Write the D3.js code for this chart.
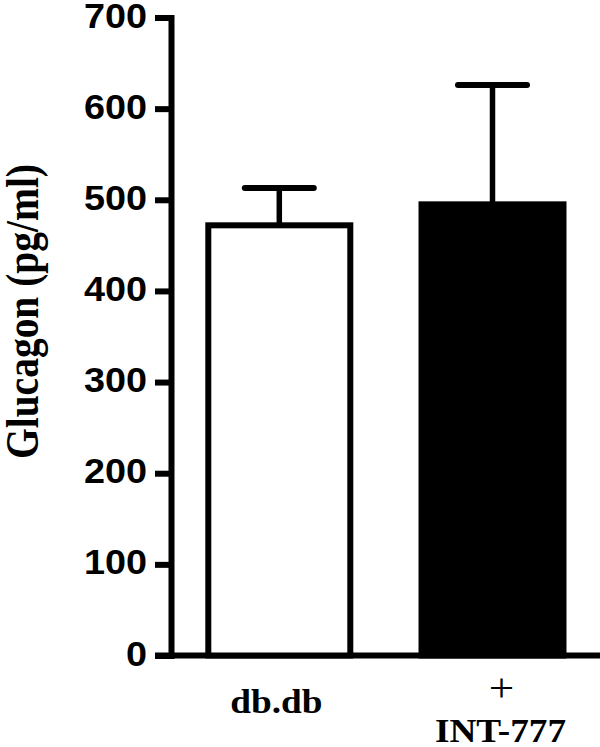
<!DOCTYPE html>
<html>
<head>
<meta charset="utf-8">
<script src="https://cdn.jsdelivr.net/npm/d3@7"></script>
<style>
  html, body { margin: 0; padding: 0; background: #fff; }
  svg { display: block; }
</style>
</head>
<body>
<svg id="chart" width="600" height="747"></svg>
<script>
// ---- data ----
const categories = ["db.db", "INT-777"];
const means = [472, 495];
const errors = [41, 131];
const fills = ["#ffffff", "#000000"];
const yTicks = [0, 100, 200, 300, 400, 500, 600, 700];
const yTitle = "Glucagon (pg/ml)";

const svg = d3.select("#chart");
const axisX = 171;

const y = d3.scaleLinear().domain([0, 700]).range([655.5, 17.5]);
const x = d3.scaleBand().domain(categories).range([172.7, 599.1])
  .paddingInner(0.334).paddingOuter(0.167);

// x axis baseline
svg.append("line")
  .attr("x1", axisX - 16).attr("x2", 600)
  .attr("y1", y(0)).attr("y2", y(0))
  .attr("stroke", "#000").attr("stroke-width", 6);

// bars
svg.selectAll("rect.bar").data(categories).join("rect")
  .attr("class", "bar")
  .attr("x", d => x(d))
  .attr("width", x.bandwidth())
  .attr("y", (d, i) => y(means[i]))
  .attr("height", (d, i) => y(0) - y(means[i]))
  .attr("fill", (d, i) => fills[i])
  .attr("stroke", "#000")
  .attr("stroke-width", 6);

// error bars
const capHalf = 34.5;
categories.forEach((c, i) => {
  const cx = x(c) + x.bandwidth() / 2;
  svg.append("line")
    .attr("x1", cx).attr("x2", cx)
    .attr("y1", y(means[i])).attr("y2", y(means[i] + errors[i]))
    .attr("stroke", "#000").attr("stroke-width", 5.5);
  svg.append("line")
    .attr("x1", cx - capHalf).attr("x2", cx + capHalf)
    .attr("y1", y(means[i] + errors[i])).attr("y2", y(means[i] + errors[i]))
    .attr("stroke", "#000").attr("stroke-width", 6).attr("stroke-linecap", "round");
});

// y axis
const yAxis = d3.axisLeft(y).tickValues(yTicks).tickSize(16).tickSizeOuter(0).tickFormat(d3.format("d"));
const gy = svg.append("g").attr("transform", `translate(${axisX},0)`).call(yAxis);
gy.select(".domain").attr("stroke", "#000").attr("stroke-width", 6).attr("stroke-linecap", "square");
gy.selectAll(".tick line").attr("stroke", "#000").attr("stroke-width", 6);
gy.selectAll(".tick text").remove();
gy.selectAll(".tick").append("text")
  .attr("transform", "translate(-24,9.5) scale(1.08,1)")
  .attr("text-anchor", "end")
  .attr("fill", "#000")
  .style("font-family", "'Liberation Sans', Arial, sans-serif")
  .style("font-weight", "bold")
  .style("font-size", "35px")
  .text(d => d);

// y title
svg.append("text")
  .attr("transform", "translate(38,311.5) rotate(-90) scale(1,1.15)")
  .attr("text-anchor", "middle")
  .style("font-family", "'Liberation Serif', 'Times New Roman', serif")
  .style("font-weight", "bold")
  .style("font-size", "39.5px")
  .text(yTitle);

// x labels
const serif = "'Liberation Serif', 'Times New Roman', serif";
const c0 = x(categories[0]) + x.bandwidth() / 2;
const c1 = x(categories[1]) + x.bandwidth() / 2;
svg.append("text")
  .attr("transform", `translate(${c0 - 3},713) scale(1.13,1)`)
  .attr("text-anchor", "middle")
  .style("font-family", serif).style("font-weight", "bold").style("font-size", "33px")
  .text(categories[0]);
svg.append("text")
  .attr("transform", `translate(${c1 + 9},701) scale(1.13,1)`)
  .attr("text-anchor", "middle")
  .style("font-family", serif).style("font-size", "40px")
  .text("+");
svg.append("text")
  .attr("transform", `translate(${c1 + 8},742) scale(1.13,1)`)
  .attr("text-anchor", "middle")
  .style("font-family", serif).style("font-weight", "bold").style("font-size", "33px")
  .text(categories[1]);
</script>
</body>
</html>
